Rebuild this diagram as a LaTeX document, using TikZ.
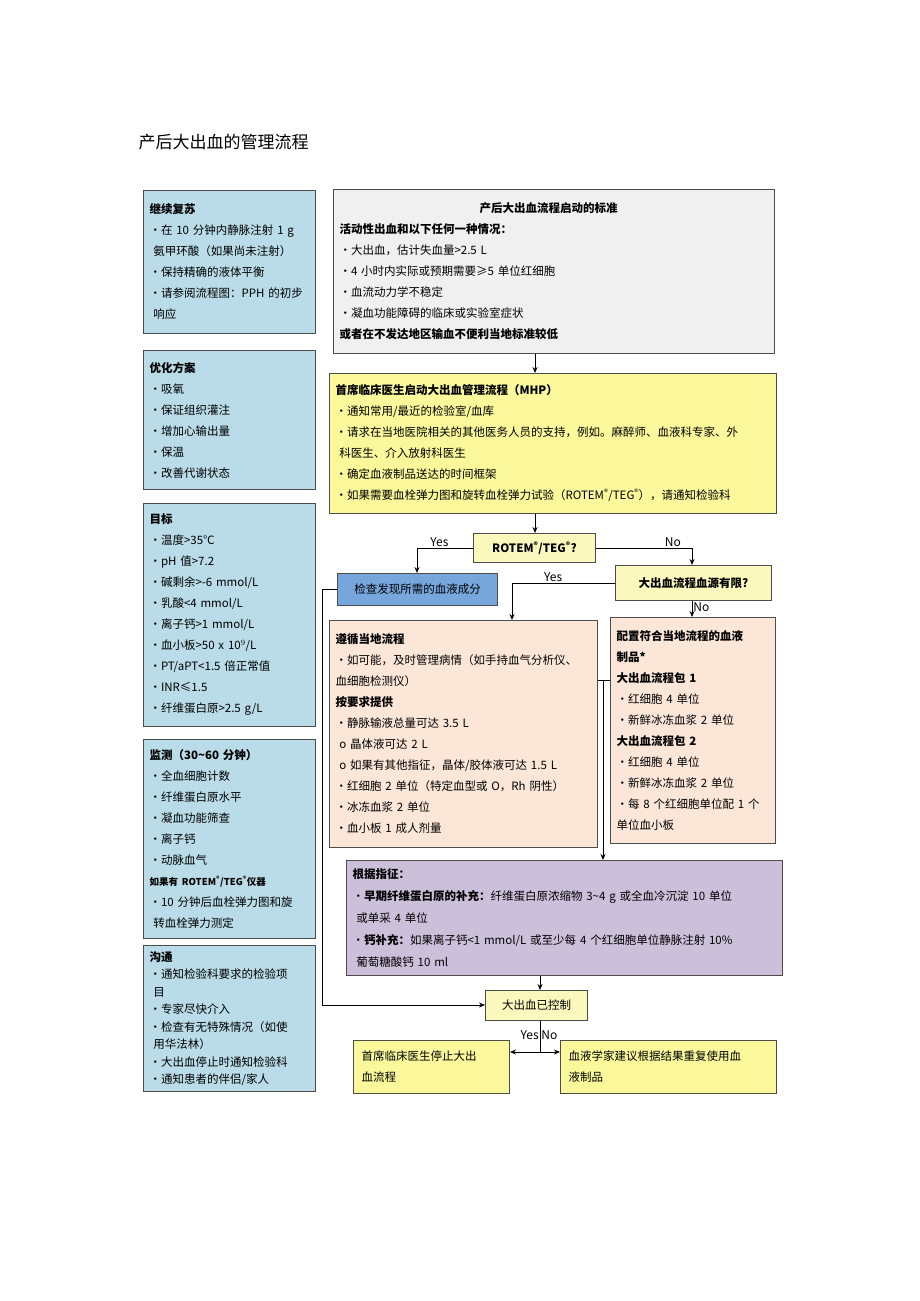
\documentclass[tikz,border=0pt]{standalone}
\usepackage{fontspec}
\setmainfont{Noto Sans CJK SC}
\usetikzlibrary{arrows.meta}

\begin{document}
\begin{tikzpicture}[x=1pt,y=-1pt,
    box/.style={draw=black!70,line width=1pt,anchor=north west,inner sep=6pt,align=left,
      font=\fontsize{11.5}{21}\selectfont},
    side/.style={box,fill=cyan!15!blue!8!white,fill=sidecol},
    line/.style={-{Stealth[length=6pt,width=5pt]},line width=0.8pt},
    lbl/.style={font=\fontsize{12}{12}\selectfont,inner sep=1pt}]
  \definecolor{sidecol}{HTML}{B9DCE8}
  \definecolor{graycol}{HTML}{F0F0F0}
  \definecolor{yelcol}{HTML}{FAF89A}
  \definecolor{lyelcol}{HTML}{FBF8BE}
  \definecolor{bluecol}{HTML}{76A6DC}
  \definecolor{peachcol}{HTML}{FBE6D8}
  \definecolor{purpcol}{HTML}{CCBFDA}
  \useasboundingbox (0,0) rectangle (920,1301);
  \node[anchor=west,font=\fontsize{17}{17}\selectfont] (title) at (135,142) {产后大出血的管理流程};
  % left column
  \node[side,minimum width=172,minimum height=143,text width=160] (resus) at (143,190)
    {\textbf{继续复苏}\\•在 10 分钟内静脉注射 1 g\\\ 氨甲环酸（如果尚未注射）\\•保持精确的液体平衡\\•请参阅流程图：PPH 的初步\\\ 响应};
  \node[side,minimum width=172,minimum height=139,text width=160] (optim) at (143,350)
    {\textbf{优化方案}\\•吸氧\\•保证组织灌注\\•增加心输出量\\•保温\\•改善代谢状态};
  \node[side,minimum width=172,minimum height=223,text width=160] (goal) at (143,503)
    {\textbf{目标}\\•温度>35℃\\•pH 值>7.2\\•碱剩余>-6 mmol/L\\•乳酸<4 mmol/L\\•离子钙>1 mmol/L\\•血小板>50 x 10$^9$/L\\•PT/aPT<1.5 倍正常值\\•INR≤1.5\\•纤维蛋白原>2.5 g/L};
  \node[side,minimum width=172,minimum height=199,text width=160] (monit) at (143,739)
    {\textbf{监测（30\textasciitilde 60 分钟）}\\•全血细胞计数\\•纤维蛋白原水平\\•凝血功能筛查\\•离子钙\\•动脉血气\\{\fontsize{9.5}{21}\selectfont\textbf{如果有 ROTEM\textsuperscript{®}/TEG\textsuperscript{®}仪器}}\\•10 分钟后血栓弹力图和旋\\\ 转血栓弹力测定};
  \node[side,minimum width=172,minimum height=145,text width=160,font=\fontsize{11.5}{17.5}\selectfont] (comm) at (143,945)
    {\textbf{沟通}\\•通知检验科要求的检验项\\\ 目\\•专家尽快介入\\•检查有无特殊情况（如使\\\ 用华法林）\\•大出血停止时通知检验科\\•通知患者的伴侣/家人};
  % main column
  \node[box,fill=graycol,minimum width=441,minimum height=164,text width=429] (crit) at (333,189)
    {\hspace*{140pt}\textbf{产后大出血流程启动的标准}\\\textbf{活动性出血和以下任何一种情况：}\\•大出血，估计失血量>2.5 L\\•4 小时内实际或预期需要≥5 单位红细胞\\•血流动力学不稳定\\•凝血功能障碍的临床或实验室症状\\\textbf{或者在不发达地区输血不便利当地标准较低}};
  \node[box,fill=yelcol,minimum width=447,minimum height=140,text width=435] (mhp) at (329,373)
    {\textbf{首席临床医生启动大出血管理流程（MHP）}\\•通知常用/最近的检验室/血库\\•请求在当地医院相关的其他医务人员的支持，例如。麻醉师、血液科专家、外\\\ 科医生、介入放射科医生\\•确定血液制品送达的时间框架\\•如果需要血栓弹力图和旋转血栓弹力试验（ROTEM\textsuperscript{®}/TEG\textsuperscript{®}），请通知检验科};
  \node[box,fill=lyelcol,minimum width=122,minimum height=29,align=center,inner sep=3pt] (rotem) at (473,533)
    {\textbf{ROTEM\textsuperscript{®}/TEG\textsuperscript{®}?}};
  \node[box,fill=bluecol,minimum width=160,minimum height=32,align=center,inner sep=3pt] (check) at (337,573)
    {检查发现所需的血液成分};
  \node[box,fill=lyelcol,minimum width=156,minimum height=35,align=center,inner sep=3pt] (limit) at (615,565)
    {\textbf{大出血流程血源有限?}};
  \node[box,fill=peachcol,minimum width=268,minimum height=227,text width=256] (local) at (329,620)
    {\textbf{遵循当地流程}\\•如可能，及时管理病情（如手持血气分析仪、\\血细胞检测仪）\\\textbf{按要求提供}\\•静脉输液总量可达 3.5 L\\\ o 晶体液可达 2 L\\\ o 如果有其他指征，晶体/胶体液可达 1.5 L\\•红细胞 2 单位（特定血型或 O，Rh 阴性）\\•冰冻血浆 2 单位\\•血小板 1 成人剂量};
  \node[box,fill=peachcol,minimum width=165,minimum height=226,text width=153] (pack) at (610,617)
    {\textbf{配置符合当地流程的血液}\\\textbf{制品*}\\\textbf{大出血流程包 1}\\•红细胞 4 单位\\•新鲜冰冻血浆 2 单位\\\textbf{大出血流程包 2}\\•红细胞 4 单位\\•新鲜冰冻血浆 2 单位\\•每 8 个红细胞单位配 1 个\\单位血小板};
  \node[box,fill=purpcol,minimum width=436,minimum height=115,text width=424,font=\fontsize{11.5}{22}\selectfont] (indic) at (346,860)
    {\textbf{根据指征：}\\•\textbf{早期纤维蛋白原的补充：}纤维蛋白原浓缩物 3\textasciitilde 4 g 或全血冷沉淀 10 单位\\\ 或单采 4 单位\\•\textbf{钙补充：}如果离子钙<1 mmol/L 或至少每 4 个红细胞单位静脉注射 10\%\\\ 葡萄糖酸钙 10 ml};
  \node[box,fill=lyelcol,minimum width=102,minimum height=30,align=center,inner sep=3pt] (ctrl) at (485,990)
    {大出血已控制};
  \node[box,fill=yelcol,minimum width=156,minimum height=53,text width=140] (stop) at (353,1040)
    {首席临床医生停止大出\\血流程};
  \node[box,fill=yelcol,minimum width=216,minimum height=53,text width=200] (repeat) at (560,1040)
    {血液学家建议根据结果重复使用血\\液制品};
  % connectors
  \coordinate (split) at (540,1052);
  \coordinate (join) at (603,680);
  \draw[line] (crit.south -| 535,0) -- (mhp.north -| 535,0);
  \draw[line] (mhp.south -| 535,0) -- (rotem.north -| 535,0);
  \draw[line] (rotem.west) -| node[lbl,pos=0.3,above]{Yes} (check.north -| 417,0);
  \draw[line] (rotem.east) -| node[lbl,pos=0.4,above]{No} (limit.north -| 692,0);
  \draw[line] (limit.west) -| node[lbl,pos=0.3,above]{Yes} (local.north -| 512,0);
  \draw[line] (limit.south -| 692,0) -- node[lbl,right,pos=0.4]{No} (pack.north -| 692,0);
  \draw[line] (check.west) -| (322,1005) -- (ctrl.west |- 0,1005);
  \draw[line width=0.8pt] (local.east |- join) -- (pack.west |- join);
  \draw[line] (join) -- (indic.north -| join);
  \draw[line] (indic.south -| 540,0) -- (ctrl.north -| 540,0);
  \draw[line width=0.8pt] (ctrl.south -| split) -- node[lbl,pos=0.45,left]{Yes} node[lbl,pos=0.45,right]{No} (split);
  \draw[line] (split) -- (stop.east |- split);
  \draw[line] (split) -- (repeat.west |- split);
\end{tikzpicture}
\end{document}
